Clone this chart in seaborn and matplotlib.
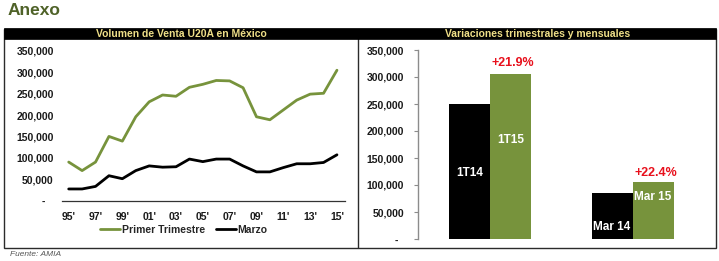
import numpy as np
import pandas as pd
import matplotlib
matplotlib.use("Agg")
import matplotlib.pyplot as plt
from matplotlib.patches import Rectangle
from matplotlib.ticker import FuncFormatter
import seaborn as sns

# ---------------- data ----------------
years = list(range(1995, 2016))
primer_trimestre = [90000, 70000, 90000, 150000, 139000, 196000, 231000, 247000, 244000,
                    265000, 272000, 281000, 280000, 264000, 196000, 189000, 212000,
                    235000, 249000, 251000, 305000]
marzo = [27000, 27000, 33000, 58000, 51000, 70000, 81000, 78000, 79000, 97000, 91000,
         97000, 97000, 81000, 67000, 67000, 77000, 86000, 86000, 89000, 107000]
series_names = ["Primer Trimestre", "Marzo"]

bar_groups = ["Trimestre", "Marzo"]
bar_periods = ["2014", "2015"]
bar_values_2014 = [250500, 86000]
bar_values_2015 = [305400, 105300]
bar_labels_2014 = ["1T14", "Mar 14"]
bar_labels_2015 = ["1T15", "Mar 15"]
variation_labels = ["+21.9%", "+22.4%"]

left_title = "Volumen de Venta U20A en México"
right_title = "Variaciones trimestrales y mensuales"

# ---------------- style ----------------
GREEN = "#77933c"
BLACK = "#000000"
RED = "#e8101c"
HEADER_TXT = "#efdf88"
TICK_C = "#1a1a1a"
FS = 7.5

sns.set_style("white")
plt.rcParams["font.family"] = ["Liberation Sans", "DejaVu Sans"]
plt.rcParams["font.weight"] = "bold"

W, H = 719, 261
fig = plt.figure(figsize=(W / 100, H / 100), dpi=100)


def fx(x):
    return x / W


def fy(y):
    return 1 - y / H


def add_ax(l, t, r, b):
    return fig.add_axes([fx(l), fy(b), fx(r - l), (b - t) / H])


# panel frames and header
fig.patches.append(Rectangle((fx(4), fy(248)), fx(712), (248 - 29) / H, transform=fig.transFigure,
                             fill=False, edgecolor="#2b2b2b", lw=1.0, zorder=0))
fig.patches.append(Rectangle((fx(358), fy(248)), 0, (248 - 29) / H, transform=fig.transFigure,
                             fill=False, edgecolor="#2b2b2b", lw=1.0, zorder=0))
fig.patches.append(Rectangle((fx(4), fy(39)), fx(712), 11 / H, transform=fig.transFigure,
                             facecolor="black", edgecolor="black", lw=0.5, zorder=1))
fig.text(fx(181), fy(34), left_title, color=HEADER_TXT, fontsize=FS, weight="bold",
         ha="center", va="center")
fig.text(fx(538), fy(34), right_title, color=HEADER_TXT, fontsize=FS, weight="bold",
         ha="center", va="center")
fig.text(fx(8), fy(10.5), "Anexo", color="#4f6228", fontsize=12.5, weight="bold",
         ha="left", va="center")
fig.text(fx(10), fy(255), "Fuente: AMIA", color="#555555", fontsize=6, style="italic",
         weight="normal", ha="left", va="center")

# ---------------- left: line chart ----------------
df_lines = pd.DataFrame({
    "year": years * 2,
    "value": primer_trimestre + marzo,
    "serie": [series_names[0]] * len(years) + [series_names[1]] * len(years),
})
axl = add_ax(62, 51, 345, 200.5)
sns.lineplot(data=df_lines, x="year", y="value", hue="serie", hue_order=series_names,
             palette=[GREEN, BLACK], lw=2.0, ax=axl, legend=True)
axl.set_xlim(years[0] - 0.5, years[-1] + 0.6)
axl.set_ylim(0, 350000)
axl.set_yticks(np.arange(0, 350001, 50000))
axl.yaxis.set_major_formatter(FuncFormatter(lambda v, p: f"{v:,.0f}" if v else "-   "))
axl.set_xticks(years[::2])
axl.set_xticklabels([f"{y % 100:02d}'" for y in years[::2]])
axl.set_xlabel("")
axl.set_ylabel("")
for s in ["top", "right", "left"]:
    axl.spines[s].set_visible(False)
axl.spines["bottom"].set_color("#333333")
axl.spines["bottom"].set_linewidth(0.9)
axl.tick_params(axis="both", length=0, labelsize=FS, labelcolor=TICK_C)
axl.tick_params(axis="y", pad=6)
axl.tick_params(axis="x", pad=8)
for t in axl.get_xticklabels() + axl.get_yticklabels():
    t.set_fontweight("bold")
handles, labels = axl.get_legend_handles_labels()
axl.legend(handles, labels, loc="center", bbox_to_anchor=(fx(184), fy(230)),
           bbox_transform=fig.transFigure, ncol=2, frameon=False, handlelength=1.9,
           handletextpad=0.15, columnspacing=1.1, prop={"size": FS, "weight": "bold"})

# ---------------- right: bar chart ----------------
df_bars = pd.DataFrame({
    "grupo": bar_groups * 2,
    "periodo": [bar_periods[0]] * 2 + [bar_periods[1]] * 2,
    "valor": bar_values_2014 + bar_values_2015,
})
axr = add_ax(418, 50, 704, 239)
sns.barplot(data=df_bars, x="grupo", y="valor", hue="periodo", hue_order=bar_periods,
            palette=[BLACK, GREEN], width=0.574, gap=0, saturation=1, ax=axr, legend=False,
            edgecolor="none")
axr.set_xlim(-0.503, 1.5)
axr.set_ylim(0, 350000)
axr.set_yticks(np.arange(0, 350001, 50000))
axr.yaxis.set_major_formatter(FuncFormatter(lambda v, p: f"{v:,.0f}" if v else "-  "))
axr.set_xticks([])
axr.set_xlabel("")
axr.set_ylabel("")
for s in ["top", "right", "bottom"]:
    axr.spines[s].set_visible(False)
axr.spines["left"].set_color("#8c8c8c")
axr.spines["left"].set_linewidth(1.0)
axr.tick_params(axis="y", length=3, width=0.8, color="#8c8c8c", direction="out",
                labelsize=FS, labelcolor=TICK_C, pad=7, left=True)
for t in axr.get_yticklabels():
    t.set_fontweight("bold")

# inner labels (placement heights in data units)
inner_y_2014 = [122000, 22000]
inner_y_2015 = [183000, 78000]
var_y = [326000, 122000]
patches = axr.patches
bars_2014 = patches[:2]
bars_2015 = patches[2:4]
for i in range(2):
    p0, p1 = bars_2014[i], bars_2015[i]
    c0 = p0.get_x() + p0.get_width() / 2
    c1 = p1.get_x() + p1.get_width() / 2
    axr.text(c0, inner_y_2014[i], bar_labels_2014[i], color="white", fontsize=8.5,
             weight="bold", ha="center", va="center")
    axr.text(c1, inner_y_2015[i], bar_labels_2015[i], color="white", fontsize=8.5,
             weight="bold", ha="center", va="center")
    axr.text(c1 + 0.02, var_y[i], variation_labels[i], color=RED, fontsize=9,
             weight="bold", ha="center", va="center")

fig.savefig("out.png", dpi=100)
